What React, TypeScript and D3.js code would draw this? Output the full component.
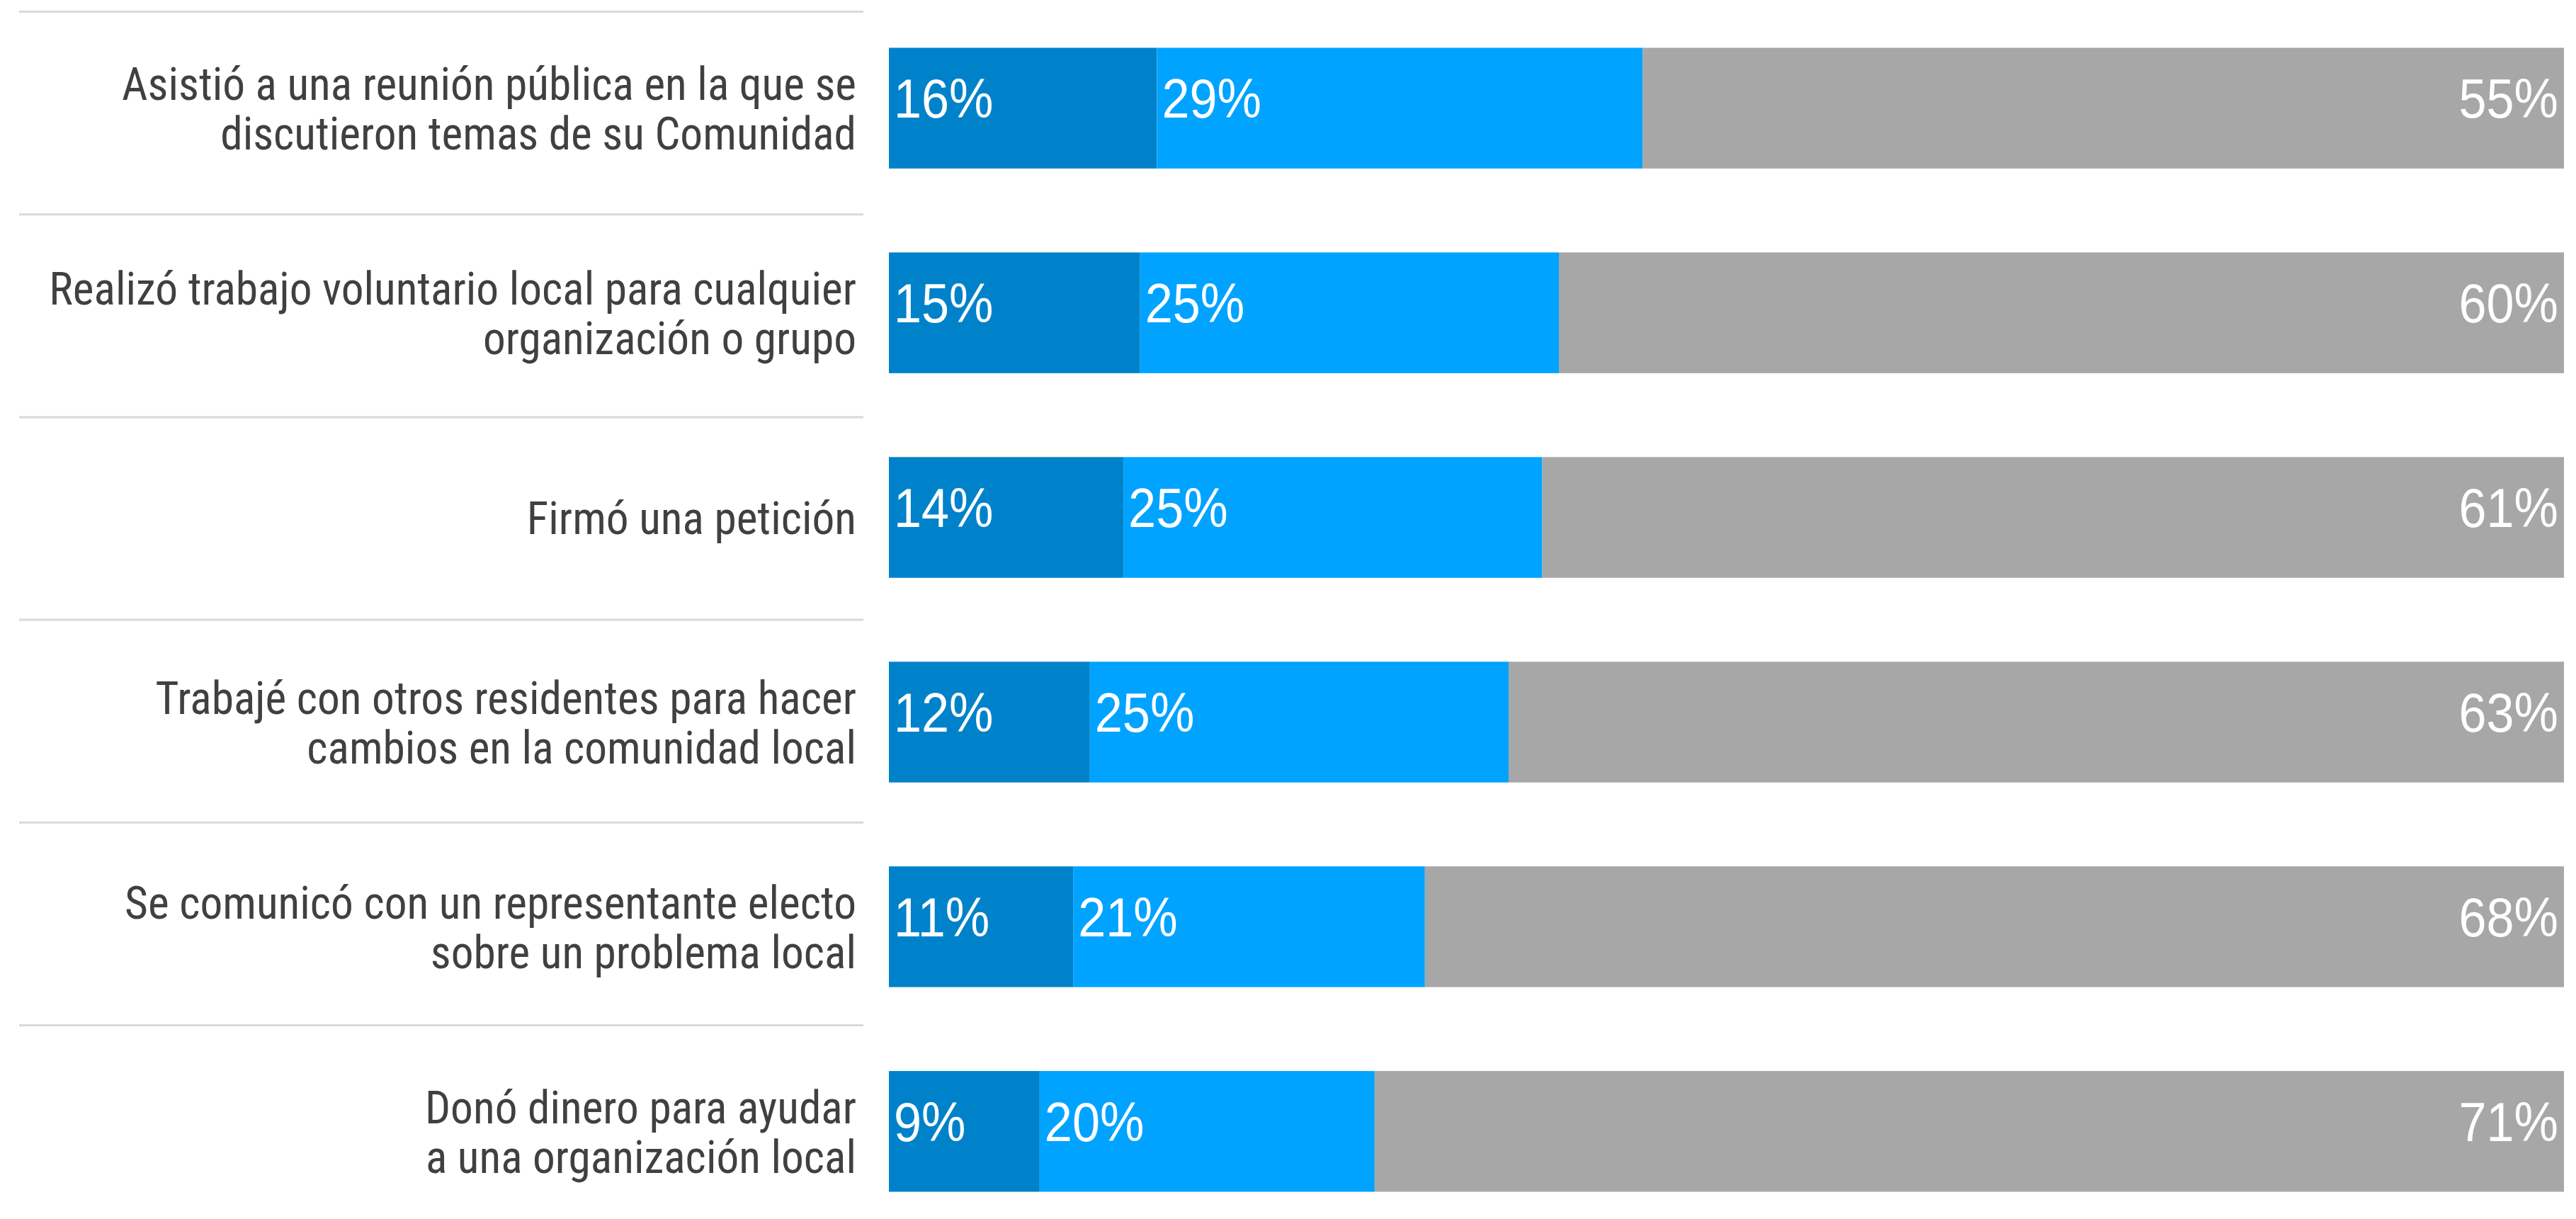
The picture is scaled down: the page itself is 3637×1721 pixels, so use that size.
import * as d3 from "d3";
import { useEffect } from "react";

// filas del gráfico (cada etiqueta partida en sus líneas)
const categories = [
  ["Asistió a una reunión pública en la que se", "discutieron temas de su Comunidad"],
  ["Realizó trabajo voluntario local para cualquier", "organización o grupo"],
  ["Firmó una petición"],
  ["Trabajé con otros residentes para hacer", "cambios en la comunidad local"],
  ["Se comunicó con un representante electo", "sobre un problema local"],
  ["Donó dinero para ayudar", "a una organización local"],
];

const frequent = [16, 15, 14, 12, 11, 9];
const occasional = [29, 25, 25, 25, 21, 20];
const never = [55, 60, 61, 63, 68, 71];

const seriesKeys = ["frequent", "occasional", "never"];
const seriesColors = ["#0082ca", "#00a3ff", "#a7a7a7"];

const width = 3637;
const height = 1721;
const labelFont = "'Roboto Condensed', 'Liberation Sans Narrow', sans-serif";
const valueFont = "'Liberation Sans', Arial, sans-serif";

export default function App() {
  useEffect(() => {
    document.body.style.margin = "0";
  }, []);

  const keys = categories.map((_, i) => String(i));
  const rows = keys.map((k, i) => ({
    key: k,
    frequent: frequent[i],
    occasional: occasional[i],
    never: never[i],
  }));
  const stack = d3.stack<any>().keys(seriesKeys)(rows);

  const x = d3.scaleLinear().domain([0, 100]).range([1255, 3620]);
  const y = d3.scaleBand().domain(keys).range([-51, 1801]).padding(0.41);
  // filas de la tabla de etiquetas (separadores grises)
  const rowY = d3.scaleBand().domain(keys).range([16.5, 16.5 + 6 * 286.2]);

  const lineH = 70.5;
  const capH = 47;

  return (
    <svg
      width={width}
      height={height}
      style={{ display: "block", position: "absolute", left: 0, top: 0 }}
    >
      <rect width={width} height={height} fill="#fff" />
      {keys.map((k) => (
        <line
          key={"g" + k}
          x1={27}
          x2={1219}
          y1={rowY(k)}
          y2={rowY(k)}
          stroke="#d9d9d9"
          strokeWidth={3}
        />
      ))}
      {categories.map((lines, i) => {
        const cy = (y(keys[i]) || 0) + y.bandwidth() / 2;
        return (
          <text
            key={"c" + i}
            transform={`translate(1209,0) scale(0.975,1)`}
            textAnchor="end"
            fontFamily={labelFont}
            fontSize={65}
            fill="#404040"
          >
            {lines.map((t, j) => (
              <tspan
                key={j}
                x={0}
                y={cy + capH / 2 + (j - (lines.length - 1) / 2) * lineH}
              >
                {t}
              </tspan>
            ))}
          </text>
        );
      })}
      {stack.map((s, si) => (
        <g key={s.key} fill={seriesColors[si]}>
          {s.map((d, i) => (
            <rect
              key={i}
              x={x(d[0])}
              y={y(keys[i])}
              width={x(d[1]) - x(d[0])}
              height={y.bandwidth()}
            />
          ))}
        </g>
      ))}
      {stack.map((s, si) => (
        <g
          key={"l" + s.key}
          fill="#fff"
          fontFamily={valueFont}
          fontSize={78}
          textAnchor={si === 2 ? "end" : "start"}
        >
          {s.map((d, i) => {
            const tx = si === 2 ? x(d[1]) - 8 : x(d[0]) + 7;
            const ty = (y(keys[i]) || 0) + y.bandwidth() * 0.58;
            return (
              <text key={i} transform={`translate(${tx},${ty}) scale(0.9,1)`}>
                {d[1] - d[0]}%
              </text>
            );
          })}
        </g>
      ))}
    </svg>
  );
}
